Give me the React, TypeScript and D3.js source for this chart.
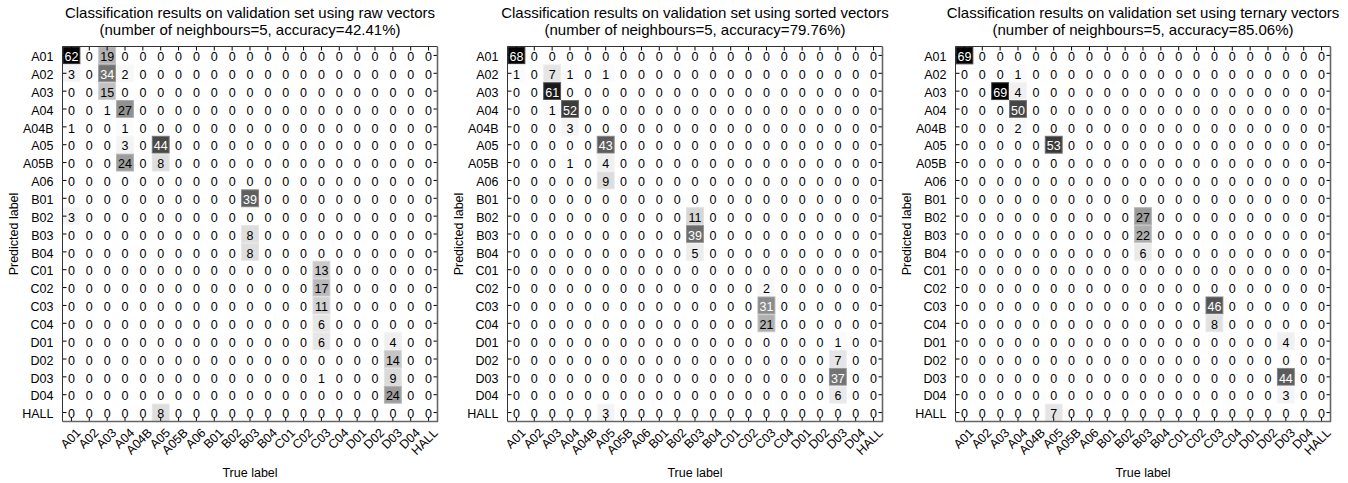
import React from 'react';
import * as d3 from 'd3';

const classLabels = ['A01', 'A02', 'A03', 'A04', 'A04B', 'A05', 'A05B', 'A06', 'B01', 'B02', 'B03', 'B04', 'C01', 'C02', 'C03', 'C04', 'D01', 'D02', 'D03', 'D04', 'HALL'];

// [predicted, true, count] — non-zero cells only
const rawCounts: [string, string, number][] = [
  ['A01', 'A01', 62], ['A01', 'A03', 19],
  ['A02', 'A01', 3], ['A02', 'A03', 34], ['A02', 'A04', 2],
  ['A03', 'A03', 15],
  ['A04', 'A03', 1], ['A04', 'A04', 27],
  ['A04B', 'A01', 1], ['A04B', 'A04', 1],
  ['A05', 'A04', 3], ['A05', 'A05', 44],
  ['A05B', 'A04', 24], ['A05B', 'A05', 8],
  ['B01', 'B03', 39],
  ['B02', 'A01', 3],
  ['B03', 'B03', 8],
  ['B04', 'B03', 8],
  ['C01', 'C03', 13],
  ['C02', 'C03', 17],
  ['C03', 'C03', 11],
  ['C04', 'C03', 6],
  ['D01', 'C03', 6], ['D01', 'D03', 4],
  ['D02', 'D03', 14],
  ['D03', 'C03', 1], ['D03', 'D03', 9],
  ['D04', 'D03', 24],
  ['HALL', 'A05', 8],
];

const sortedCounts: [string, string, number][] = [
  ['A01', 'A01', 68],
  ['A02', 'A01', 1], ['A02', 'A03', 7], ['A02', 'A04', 1], ['A02', 'A05', 1],
  ['A03', 'A03', 61],
  ['A04', 'A03', 1], ['A04', 'A04', 52],
  ['A04B', 'A04', 3],
  ['A05', 'A05', 43],
  ['A05B', 'A04', 1], ['A05B', 'A05', 4],
  ['A06', 'A05', 9],
  ['B02', 'B03', 11],
  ['B03', 'B03', 39],
  ['B04', 'B03', 5],
  ['C02', 'C03', 2],
  ['C03', 'C03', 31],
  ['C04', 'C03', 21],
  ['D01', 'D03', 1],
  ['D02', 'D03', 7],
  ['D03', 'D03', 37],
  ['D04', 'D03', 6],
  ['HALL', 'A05', 3],
];

const ternaryCounts: [string, string, number][] = [
  ['A01', 'A01', 69],
  ['A02', 'A04', 1],
  ['A03', 'A03', 69], ['A03', 'A04', 4],
  ['A04', 'A04', 50],
  ['A04B', 'A04', 2],
  ['A05', 'A05', 53],
  ['B02', 'B03', 27],
  ['B03', 'B03', 22],
  ['B04', 'B03', 6],
  ['C03', 'C03', 46],
  ['C04', 'C03', 8],
  ['D01', 'D03', 4],
  ['D03', 'D03', 44],
  ['D04', 'D03', 3],
  ['HALL', 'A05', 7],
];

const panelTitles = [
  ['Classification results on validation set using raw vectors', '(number of neighbours=5, accuracy=42.41%)'],
  ['Classification results on validation set using sorted vectors', '(number of neighbours=5, accuracy=79.76%)'],
  ['Classification results on validation set using ternary vectors', '(number of neighbours=5, accuracy=85.06%)'],
];

const panelData = [rawCounts, sortedCounts, ternaryCounts];

const W = 1348;
const H = 483;
const plotLefts = [62.5, 507.5, 955.5];
const plotTop = 46.5;
const plotSize = 375;
const FONT = 'Liberation Sans, Arial, Helvetica, sans-serif';

function Panel({ left, counts, title }: { left: number; counts: [string, string, number][]; title: string[] }) {
  const x = d3.scaleBand<string>().domain(classLabels).range([left, left + plotSize]);
  const y = d3.scaleBand<string>().domain(classLabels).range([plotTop, plotTop + plotSize]);
  const bw = x.bandwidth();
  const bh = y.bandwidth();
  const lookup = new Map<string, number>();
  counts.forEach(([p, t, v]) => lookup.set(p + '|' + t, v));
  const maxV = d3.max(counts, (d) => d[2]) ?? 1;
  const color = d3.scaleLinear<string>().domain([0, maxV]).range(['#ffffff', '#000000']);
  const bottom = plotTop + plotSize;
  const right = left + plotSize;
  const cx = left + plotSize / 2;
  const tick = 4;

  const cells: React.ReactNode[] = [];
  const texts: React.ReactNode[] = [];
  classLabels.forEach((p) => {
    classLabels.forEach((t) => {
      const v = lookup.get(p + '|' + t) ?? 0;
      const x0 = x(t)!;
      const y0 = y(p)!;
      if (v > 0) {
        const c = color(v);
        cells.push(
          <rect key={`c-${p}-${t}`} x={x0 + 0.5} y={y0 + 0.5} width={bw - 1} height={bh - 1}
            fill={c} stroke={d3.interpolateRgb(c, '#ffffff')(0.25)} strokeWidth={1} />
        );
      }
      texts.push(
        <text key={`t-${p}-${t}`} x={x0 + bw / 2} y={y0 + bh / 2 + 1.3} dy="0.35em" textAnchor="middle"
          fontSize={12.5} fill={v / maxV > 0.445 ? '#ffffff' : '#000000'}>{v}</text>
      );
    });
  });

  return (
    <g fontFamily={FONT}>
      <text x={cx} y={18} textAnchor="middle" fontSize={15}>{title[0]}</text>
      <text x={cx} y={35} textAnchor="middle" fontSize={15}>{title[1]}</text>
      {cells}
      {classLabels.map((l) => {
        const xc = x(l)! + bw / 2;
        const yc = y(l)! + bh / 2;
        return (
          <g key={`tk-${l}`} stroke="#000" strokeWidth={1}>
            <line x1={xc} x2={xc} y1={plotTop} y2={plotTop + tick} />
            <line x1={xc} x2={xc} y1={bottom} y2={bottom - tick} />
            <line x1={left} x2={left + tick} y1={yc} y2={yc} />
            <line x1={right} x2={right - tick} y1={yc} y2={yc} />
          </g>
        );
      })}
      {texts}
      <line x1={left} x2={right} y1={plotTop} y2={plotTop} stroke="#333" strokeWidth={1} />
      <line x1={left} x2={left} y1={plotTop} y2={bottom} stroke="#333" strokeWidth={1} />
      <line x1={right} x2={right} y1={plotTop} y2={bottom + 0.5} stroke="#666" strokeWidth={1.6} />
      <line x1={left} x2={right + 0.5} y1={bottom} y2={bottom} stroke="#666" strokeWidth={1.6} />
      {classLabels.map((l) => (
        <text key={`yl-${l}`} x={left - 9} y={y(l)! + bh / 2 + 1.3} dy="0.35em" textAnchor="end" fontSize={12.5}>{l}</text>
      ))}
      {classLabels.map((l) => {
        const ax = x(l)! + bw / 2 + 7;
        const ay = bottom + 9;
        return (
          <text key={`xl-${l}`} x={ax} y={ay} dy="0.35em" textAnchor="end" fontSize={12.5}
            transform={`rotate(-45 ${ax} ${ay})`}>{l}</text>
        );
      })}
      <text x={cx} y={477} textAnchor="middle" fontSize={12.5}>True label</text>
      <text x={left - 45} y={plotTop + plotSize / 2} textAnchor="middle" fontSize={12.5}
        transform={`rotate(-90 ${left - 45} ${plotTop + plotSize / 2})`}>Predicted label</text>
    </g>
  );
}

export default function App() {
  return (
    <svg width={W} height={H} style={{ position: 'absolute', left: 0, top: 0, background: '#fff' }}>
      <rect x={0} y={0} width={W} height={H} fill="#fff" />
      {plotLefts.map((l, i) => (
        <Panel key={i} left={l} counts={panelData[i]} title={panelTitles[i]} />
      ))}
    </svg>
  );
}
